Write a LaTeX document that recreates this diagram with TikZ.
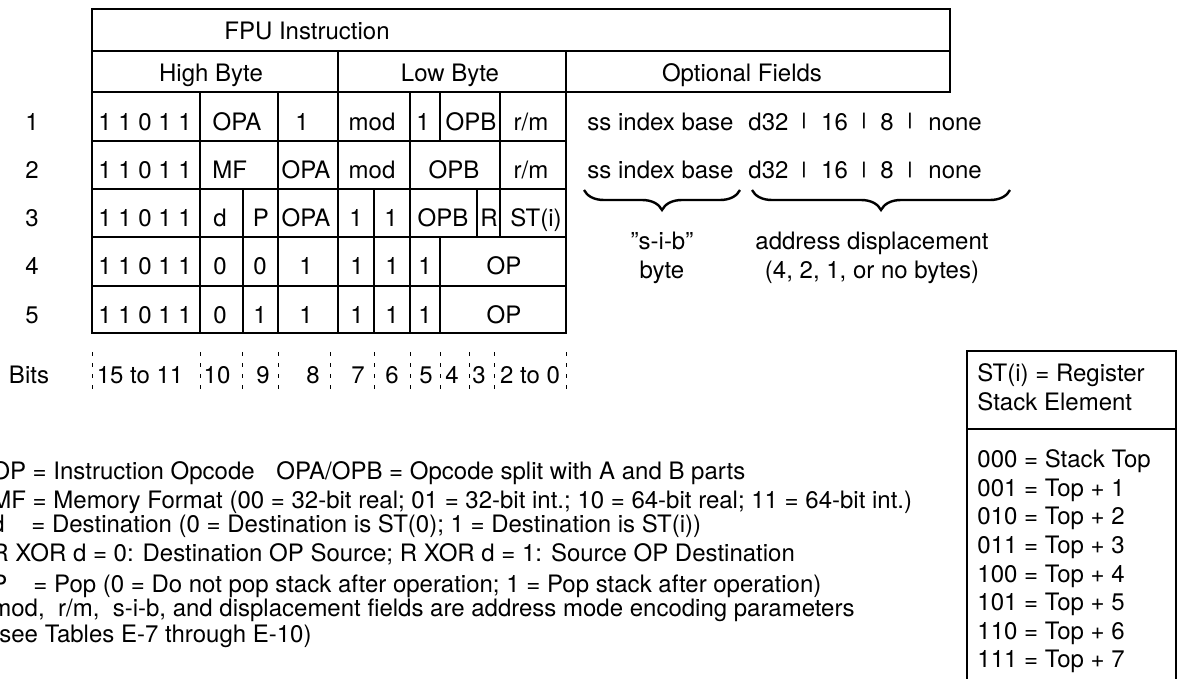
\documentclass[tikz,border=0pt]{standalone}
\usepackage{fontspec}
\setmainfont{TeX Gyre Heros}
\usepackage{tikz}
\usetikzlibrary{positioning, decorations.pathreplacing}

\tikzset{
    field/.style={inner sep=0pt, text height=8.6pt, text depth=0pt, font=\fontsize{12}{14.4}\selectfont},
    barsym/.style={inner sep=0pt, font=\fontsize{8.5}{8.5}\selectfont\bfseries},
    grid/.style={line width=1.3pt},
    tick/.style={line width=0.5pt, dash pattern=on 2pt off 3.5pt},
    underbrace/.style={decorate, decoration={brace, amplitude=10pt}, line width=1.2pt}
}

\begin{document}
\begin{tikzpicture}[x=0.5pt, y=-0.5pt]
    \useasboundingbox (0,0) rectangle (1177,679);

    % Header rows
    \draw[grid] (92,9) rectangle (950,51);
    \draw[grid] (92,51) rectangle (950,92);
    \draw[grid] (338,51) -- (338,92);
    \draw[grid] (566,51) -- (566,92);
    \node[field] (fpu) at (307,31) {FPU Instruction};
    \node[field] (high) at (211,73) {High Byte};
    \node[field] (low) at (450,73) {Low Byte};
    \node[field] (opt) at (742,73) {Optional Fields};

    % Format rows
    \foreach \ya/\yb in {92/141, 141/189, 189/237, 237/286, 286/333}
        \draw[grid] (92,\ya) rectangle (566,\yb);
    \foreach \x in {200,278,338,410,440,500} \draw[grid] (\x,92) -- (\x,141);
    \foreach \x in {200,278,338,410,500} \draw[grid] (\x,141) -- (\x,189);
    \foreach \x in {200,243,278,338,374,410,477,500} \draw[grid] (\x,189) -- (\x,237);
    \foreach \x in {200,243,278,338,374,410,440} {
        \draw[grid] (\x,237) -- (\x,286);
        \draw[grid] (\x,286) -- (\x,333);
    }

    % Row numbers
    \foreach \y [count=\i] in {121.5,169.8,218,266.3,314.5}
        \node[field] (num\i) at (32,\y) {\i};

    % Field contents
    \foreach \x/\t [count=\k] in {145/1 1 0 1 1, 237/OPA, 302/1, 372/mod, 423/1, 471/OPB, 531/{r/m}}
        \node[field] (fmtA-\k) at (\x,121.5) {\t};
    \foreach \x/\t [count=\k] in {145/1 1 0 1 1, 306/OPA, 372/mod, 454/OPB, 531/{r/m}}
        \node[field] (fmtB-\k) at (\x,169.8) {\t};
    \node[field, anchor=west] (fmtB-mf) at (212,169.8) {MF};
    \foreach \x/\t [count=\k] in {145/1 1 0 1 1, 220/d, 261/P, 306/OPA, 356/1, 391/1, 443/OPB, 489/R, 536/ST(i)}
        \node[field] (fmtC-\k) at (\x,218) {\t};
    \foreach \x/\t [count=\k] in {145/1 1 0 1 1, 220/0, 260/0, 306/1, 357/1, 392/1, 425/1, 504/OP}
        \node[field] (fmtD-\k) at (\x,266.3) {\t};
    \foreach \x/\t [count=\k] in {145/1 1 0 1 1, 220/0, 260/1, 306/1, 357/1, 392/1, 425/1, 504/OP}
        \node[field] (fmtE-\k) at (\x,314.5) {\t};

    % Bit positions
    \node[field] (bits) at (29,374.5) {Bits};
    \foreach \x in {92,200,242,278,330,374,410,440,469,494,566}
        \draw[tick] (\x,352) -- (\x,393);
    \foreach \x/\t [count=\k] in {140/15 to 11, 217/10, 263/9, 313/8, 358/7, 392/6, 426/5, 452/4, 479/3, 530/2 to 0}
        \node[field] (bit\k) at (\x,374.5) {\t};

    % Optional fields
    \foreach \y/\r in {121.5/a, 169.8/b} {
        \node[field, anchor=west] (ssib\r) at (587,\y) {ss index base};
        \node[field, anchor=west] (dispa\r) at (748,\y) {d32};
        \node[field] (dispb\r) at (834.5,\y) {16};
        \node[field] (dispc\r) at (887,\y) {8};
        \node[field, anchor=west] (dispd\r) at (928,\y) {none};
        \foreach \x [count=\k] in {804,864,910}
            \node[barsym] (bar\r\k) at (\x,\y) {|};
    }

    % Braces
    \coordinate (sibL) at (584,190);
    \coordinate (sibR) at (740,190);
    \coordinate (dispL) at (752,190);
    \coordinate (dispR) at (1010,190);
    \draw[underbrace] (sibR) -- (sibL);
    \draw[underbrace] (dispR) -- (dispL);
    \node[field] (sibtop) at (662,241) {\symbol{34}s-i-b\symbol{34}};
    \node[field] (sibbot) at (662,270) {byte};
    \node[field] (disptop) at (872,241) {address displacement};
    \node[field] (dispbot) at (872,270) {(4, 2, 1, or no bytes)};

    % Legend
    \node[field, anchor=west] (keyop) at (-9,471) {OP = Instruction Opcode};
    \node[field, anchor=west] (keyopab) at (276,471) {OPA/OPB = Opcode split with A and B parts};
    \node[field, anchor=west] (keymf) at (-9,500) {MF = Memory Format (00 = 32-bit real; 01 = 32-bit int.; 10 = 64-bit real; 11 = 64-bit int.)};
    \node[field, anchor=west] (keyd) at (-9,524) {\makebox[20pt][l]{d}= Destination (0 = Destination is ST(0); 1 = Destination is ST(i))};
    \node[field, anchor=west] (keyr) at (-9,553) {R XOR d = 0: Destination OP Source; R XOR d = 1: Source OP Destination};
    \node[field, anchor=west] (keyp) at (-9,584) {\makebox[21pt][l]{P}= Pop (0 = Do not pop stack after operation; 1 = Pop stack after operation)};
    \node[field, anchor=west] (keymod) at (-9,608) {mod,\ \ r/m,\ \ s-i-b, and displacement fields are address mode encoding parameters};
    \node[field, anchor=west] (keysee) at (-9,634) {(see Tables E-7 through E-10)};

    % Stack element box
    \draw[grid] (967,351) rectangle (1175.8,690);
    \draw[grid] (967,429) -- (1175.8,429);
    \node[field, anchor=west] (sthead) at (977,373) {ST(i) = Register};
    \node[field, anchor=west] (stsub) at (977,402) {Stack Element};
    \foreach \t [count=\k] in {000 = Stack Top, 001 = Top + 1, 010 = Top + 2, 011 = Top + 3, 100 = Top + 4, 101 = Top + 5, 110 = Top + 6, 111 = Top + 7}
        \node[field, anchor=west] (st\k) at (977,{459+(\k-1)*28.6}) {\t};
\end{tikzpicture}
\end{document}
